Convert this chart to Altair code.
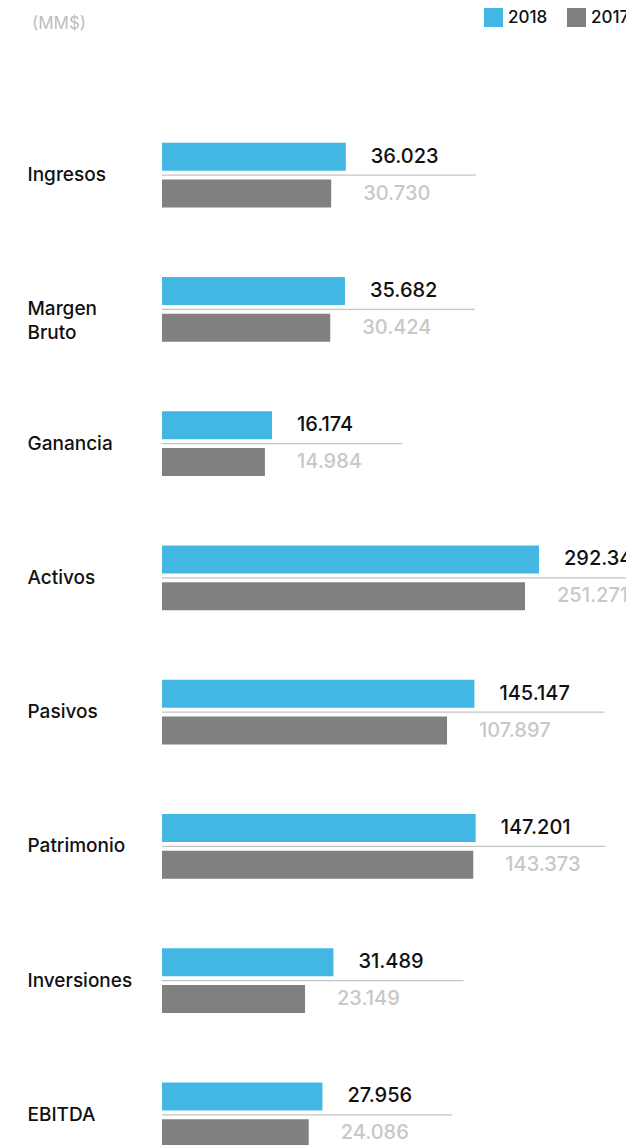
import altair as alt
import pandas as pd

categories = ["Ingresos", "Margen Bruto", "Ganancia", "Activos", "Pasivos",
              "Patrimonio", "Inversiones", "EBITDA"]
values_2018 = [36023, 35682, 16174, 292348, 145147, 147201, 31489, 27956]
values_2017 = [30730, 30424, 14984, 251271, 107897, 143373, 23149, 24086]
years = ["2018", "2017"]
colors = ["#43b7e3", "#808080"]
unit_note = ["(MM$)"]

rows = []
for c, a, b in zip(categories, values_2018, values_2017):
    rows.append({"cat": c, "year": "2018", "value": a})
    rows.append({"cat": c, "year": "2017", "value": b})
df = pd.DataFrame(rows)
df["label"] = df["value"].map(lambda v: f"{v:,}".replace(",", "."))

D0, D1 = 4910, 751000
FONT = "Inter"

x_scale = alt.Scale(type="log", domain=[D0, D1], nice=False)
x_enc = alt.X("value:Q", scale=x_scale, axis=None)
y_enc = alt.Y(
    "cat:N", sort=categories,
    scale=alt.Scale(paddingInner=0, paddingOuter=0),
    axis=alt.Axis(title=None, ticks=False, domain=False, labelAlign="left",
                  labelPadding=135, labelFontSize=19, labelFontWeight=500,
                  labelColor="#111111", labelFont=FONT, labelLineHeight=24,
                  labelExpr="split(datum.value, ' ')", labelBaseline="middle"),
)
yoff = alt.YOffset("year:N", sort=years,
                   scale=alt.Scale(domain=years, paddingInner=0.243, paddingOuter=0.94))

base = alt.Chart(df)

bars = base.mark_bar().encode(
    x=x_enc,
    x2=alt.datum(D0),
    y=y_enc,
    yOffset=yoff,
    color=alt.Color(
        "year:N", sort=years,
        scale=alt.Scale(domain=years, range=colors),
        legend=alt.Legend(title=None, orient="none", legendX=322, legendY=-100,
                          direction="horizontal", symbolType="square",
                          symbolSize=361, symbolStrokeWidth=0, labelFontSize=17,
                          labelFontWeight=500,
                          labelFont=FONT, labelColor="#111111", columnPadding=19,
                          labelOffset=5, padding=0),
    ),
)

rule = base.transform_filter("datum.year == '2018'").mark_rule(
    color="#c4c4c4", strokeWidth=1.2, xOffset=130
).encode(x=x_enc, x2=alt.datum(D0), y=y_enc)

t18 = base.transform_filter("datum.year == '2018'").mark_text(
    align="left", baseline="middle", dx=25, fontSize=20, fontWeight=500,
    color="#111111", font=FONT
).encode(x=x_enc, y=y_enc, yOffset=yoff, text="label:N")

t17 = base.transform_filter("datum.year == '2017'").mark_text(
    align="left", baseline="middle", dx=32, fontSize=20, fontWeight=500,
    color="#c8c8c8", font=FONT
).encode(x=x_enc, y=y_enc, yOffset=yoff, text="label:N")

note = alt.Chart(pd.DataFrame({"t": unit_note})).mark_text(
    align="left", baseline="middle", fontSize=17, color="#bdbdbd", font=FONT
).encode(x=alt.value(-130), y=alt.value(-84), text="t:N")

chart = alt.layer(rule, bars, t18, t17, note).properties(
    width=464, height=1074,
    autosize="none",
    padding={"left": 154, "top": 100, "right": 0, "bottom": 10},
).configure_view(stroke=None)

chart.save("out.html", embed_options={"renderer": "svg", "actions": False})
